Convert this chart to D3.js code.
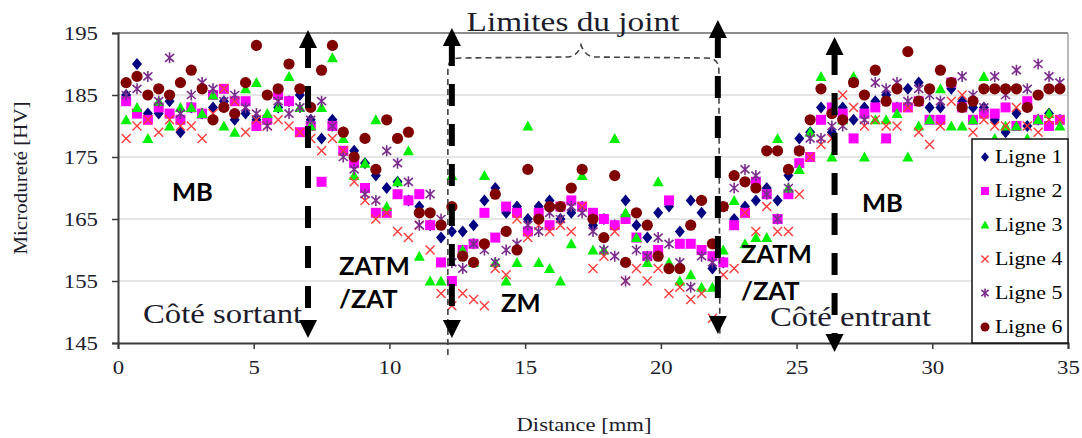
<!DOCTYPE html>
<html><head><meta charset="utf-8">
<script src="https://cdn.jsdelivr.net/npm/d3@7"></script>
<style>html,body{margin:0;padding:0;background:#fff;}svg{display:block;}</style>
</head><body>
<svg id="chart" width="1082" height="438"></svg>
<script>
const distance = [0.3,0.7,1.1,1.5,1.9,2.3,2.7,3.1,3.5,3.9,4.3,4.7,5.1,5.5,5.9,6.3,6.7,7.1,7.5,7.9,8.3,8.7,9.1,9.5,9.9,10.3,10.7,11.1,11.5,11.9,12.3,12.7,13.1,13.5,13.9,14.3,14.7,15.1,15.5,15.9,16.3,16.7,17.1,17.5,17.9,18.3,18.7,19.1,19.5,19.9,20.3,20.7,21.1,21.5,21.9,22.3,22.7,23.1,23.5,23.9,24.3,24.7,25.1,25.5,25.9,26.3,26.7,27.1,27.5,27.9,28.3,28.7,29.1,29.5,29.9,30.3,30.7,31.1,31.5,31.9,32.3,32.7,33.1,33.5,33.9,34.3,34.7];
const ligne1 = [185,190,182,182,184,179,183,182,183,184,181,182,181,181,183,184,185,181,178,181,179,176,174,172,170,171,168,167,164,162,163,163,164,168,170,166,167,165,167,168,165,166,167,164,165,164,168,164,162,166,167,163,168,166,157,158,165,167,168,170,168,172,178,179,183,179,183,181,183,184,185,183,186,187,183,183,186,184,183,183,181,179,182,180,181,182,181];
const ligne2 = [184,182,181,183,182,181,183,182,185,186,184,184,180,181,185,184,179,180,171,180,176,174,170,166,166,169,168,169,164,158,155,160,161,166,162,167,166,163,166,164,167,168,167,166,165,164,165,162,159,160,168,161,161,160,159,158,164,166,171,169,165,169,174,175,181,183,182,178,182,183,178,183,183,184,181,181,187,183,181,182,182,183,180,184,181,180,181];
const ligne3 = [181,183,178,184,180,183,183,182,185,180,179,186,187,182,183,188,183,180,183,191,178,172,174,181,167,171,176,159,155,155,172,160,158,172,158,155,158,180,158,157,155,161,172,160,160,178,166,162,158,171,158,155,156,154,154,160,168,161,162,162,178,170,173,179,188,175,181,188,175,181,181,182,175,180,181,186,180,180,181,188,178,180,180,178,181,182,180];
const ligne4 = [178,180,181,179,181,180,180,178,182,186,184,179,181,180,181,180,179,178,176,178,176,171,168,165,166,163,162,164,160,153,151,153,152,151,157,156,165,162,164,163,164,163,167,157,159,163,155,157,155,157,153,154,152,153,149,156,157,166,163,167,163,163,169,175,177,178,185,183,180,181,180,180,183,179,177,180,184,185,179,181,180,180,183,180,179,181,181];
const ligne5 = [185,186,188,184,191,182,185,187,186,184,185,183,182,180,184,182,183,181,184,180,175,173,169,168,176,174,171,164,169,165,158,157,161,160,158,160,161,164,163,166,165,167,166,163,160,159,155,160,159,162,161,158,154,159,158,167,170,173,172,169,165,170,176,178,178,180,180,187,181,187,186,187,184,186,185,184,187,188,185,183,188,185,189,186,190,188,187];
const ligne6 = [187,188,185,186,185,187,189,186,181,183,182,187,193,185,186,190,186,183,189,193,179,175,178,173,181,178,179,166,166,164,167,159,158,161,169,163,160,173,165,167,167,170,173,165,162,172,158,166,164,159,157,157,164,168,161,167,172,171,170,176,176,173,176,181,186,182,181,187,185,189,184,186,192,184,186,189,187,183,184,186,186,186,186,183,185,186,186];
const seriesNames = ["Ligne 1","Ligne 2","Ligne 3","Ligne 4","Ligne 5","Ligne 6"];
const seriesColors = ["#000080","#ff00ff","#00f000","#ff3b3b","#7b2d8e","#800000"];
const seriesShapes = ["diamond","square","triangle","cross","star","circle"];
const yTicks = [145,155,165,175,185,195];
const xTicks = [0,5,10,15,20,25,30,35];
const zoneBounds = [7.0, 12.3, 22.1, 26.4];

const svg = d3.select("#chart");
const x = d3.scaleLinear().domain([0,35]).range([118,1068]);
const y = d3.scaleLinear().domain([145,195]).range([343,33]);
const serif = "'Liberation Serif','Times New Roman',serif";
const textCol = "#1c1c2c";
const SX = 1.2;

function wideText(px, py, str, size, anchor, sx, col){
  return svg.append("text").attr("transform",`translate(${px},${py}) scale(${sx},1)`)
    .attr("text-anchor",anchor).attr("font-family",serif).attr("font-size",size)
    .attr("fill",col||textCol).text(str);
}

// gridlines
svg.append("g").selectAll("line").data(yTicks.filter(t=>t>145 && t<195)).join("line")
  .attr("x1",x(0)).attr("x2",x(35)).attr("y1",d=>y(d)).attr("y2",d=>y(d))
  .attr("stroke","#dcdcdc").attr("stroke-width",1.5);
svg.append("line").attr("x1",x(0)).attr("x2",x(35)).attr("y1",y(195)).attr("y2",y(195)).attr("stroke","#8c8c8c").attr("stroke-width",2);
svg.append("line").attr("x1",x(35)).attr("x2",x(35)).attr("y1",y(195)).attr("y2",y(145)).attr("stroke","#a0a0a0").attr("stroke-width",1.5);

// axes
const yAxis = svg.append("g").attr("transform",`translate(${x(0)},0)`)
  .call(d3.axisLeft(y).tickValues(yTicks).tickSize(6).tickPadding(13).tickFormat(d3.format("d")));
const xAxis = svg.append("g").attr("transform",`translate(0,${y(145)})`)
  .call(d3.axisBottom(x).tickValues(xTicks).tickSize(6).tickPadding(12).tickFormat(d3.format("d")));
[yAxis,xAxis].forEach(a=>{
  a.select(".domain").attr("stroke","#3a3a3a").attr("stroke-width",2);
  a.selectAll(".tick line").attr("stroke","#3a3a3a").attr("stroke-width",1.5);
  a.selectAll(".tick text").attr("font-family",serif).attr("font-size",19).attr("fill",textCol);
});
yAxis.selectAll(".tick text").attr("x",-20/SX).attr("transform",`scale(${SX},1)`);
xAxis.selectAll(".tick text").attr("transform",`scale(${SX},1)`);

svg.append("text").attr("transform","translate(27,178) rotate(-90) scale(1,0.85)").attr("text-anchor","middle")
  .attr("font-family",serif).attr("font-size",21).attr("fill",textCol).text("Microdureté [HV]");
wideText(584, 431, "Distance [mm]", 19, "middle", 1.19);

// markers
function drawMarker(sel, shape, color, s){
  if(shape==="diamond") sel.append("path").attr("d",`M0,${-6*s}L${5*s},0L0,${6*s}L${-5*s},0Z`).attr("fill",color);
  else if(shape==="square") sel.append("rect").attr("x",-5*s).attr("y",-5*s).attr("width",10*s).attr("height",10*s).attr("fill",color);
  else if(shape==="triangle") sel.append("path").attr("d",`M0,${-5.5*s}L${5.5*s},${4.5*s}L${-5.5*s},${4.5*s}Z`).attr("fill",color);
  else if(shape==="cross") sel.append("path").attr("d",`M${-4.5*s},${-4.5*s}L${4.5*s},${4.5*s}M${-4.5*s},${4.5*s}L${4.5*s},${-4.5*s}`).attr("stroke",color).attr("stroke-width",1.4).attr("fill","none");
  else if(shape==="star") sel.append("path").attr("d",`M${-4.5*s},${-4*s}L${4.5*s},${4*s}M${-4.5*s},${4*s}L${4.5*s},${-4*s}M0,${-5.5*s}L0,${5.5*s}`).attr("stroke",color).attr("stroke-width",1.6).attr("fill","none");
  else if(shape==="circle") sel.append("circle").attr("r",5.6*s).attr("fill",color);
}
const allSeries = [ligne1,ligne2,ligne3,ligne4,ligne5,ligne6];
allSeries.forEach((vals,si)=>{
  const g = svg.append("g");
  vals.forEach((v,i)=>{
    if(v==null) return;
    const m = g.append("g").attr("transform",`translate(${x(distance[i])},${y(v)})`);
    drawMarker(m, seriesShapes[si], seriesColors[si], 1);
  });
});

// text annotations
wideText(143, 323, "Côté sortant", 28, "start", 1.17);
wideText(770, 326, "Côté entrant", 28, "start", 1.17);
wideText(573, 31, "Limites du joint", 28, "middle", 1.19);

const bold = "Lato,'Open Sans',sans-serif";
const zoneLabels = [["MB",172,201],["ZATM",339,275],["/ZAT",339,308],["ZM",501,312],["ZATM",741,263],["/ZAT",741,300],["MB",862,212]];
zoneLabels.forEach(([t,px,py])=>{
  svg.append("text").attr("x",px).attr("y",py).attr("font-family",bold).attr("font-weight",700).attr("font-size",25.5).attr("fill","#000").text(t);
});

// thin dashed bracket
const bx1 = x(12.3)-4, bx2 = x(22.1)+1;
const bracket = `M${bx1},355 L${bx1},70 Q${bx1},58 ${bx1+12},58 L${568},57 Q${578},56 ${581},45 Q${585},56 ${594},57 L${bx2-12},58 Q${bx2},58 ${bx2},70 L${bx2+1},338`;
svg.append("path").attr("d",bracket).attr("fill","none").attr("stroke","#444").attr("stroke-width",1.6).attr("stroke-dasharray","6,4");

// thick dashed double arrows
const arrowTops = [30, 28, 20, 37];
const arrowBottoms = [338, 338, 334, 352];
zoneBounds.forEach((b,i)=>{
  const px = x(b);
  const t = arrowTops[i], btm = arrowBottoms[i];
  svg.append("line").attr("x1",px).attr("x2",px).attr("y1",t+16).attr("y2",t+38)
    .attr("stroke","#000").attr("stroke-width",6);
  svg.append("line").attr("x1",px).attr("x2",px).attr("y1",t+56).attr("y2",btm-16)
    .attr("stroke","#000").attr("stroke-width",6).attr("stroke-dasharray","22,18");
  svg.append("path").attr("d",`M${px},${t}L${px+9},${t+18}L${px-9},${t+18}Z`).attr("fill","#000");
  svg.append("path").attr("d",`M${px},${btm}L${px+9},${btm-18}L${px-9},${btm-18}Z`).attr("fill","#000");
});

// legend
const lg = svg.append("g");
lg.append("rect").attr("x",972).attr("y",139).attr("width",96).attr("height",204).attr("fill","#fff").attr("stroke","#111").attr("stroke-width",1.5);
seriesNames.forEach((n,i)=>{
  const cy = 157 + i*34;
  const m = lg.append("g").attr("transform",`translate(985,${cy})`);
  drawMarker(m, seriesShapes[i], seriesColors[i], 0.8);
  lg.append("text").attr("transform",`translate(995,${cy+6}) scale(1.15,1)`).attr("font-family",serif).attr("font-size",19).attr("fill","#000").text(n);
});
</script>
</body></html>
